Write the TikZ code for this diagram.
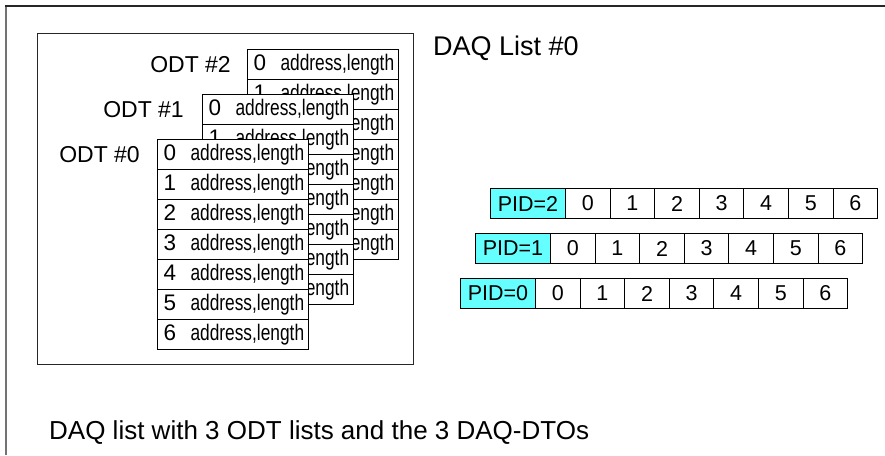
\documentclass[tikz,border=0pt]{standalone}
\usepackage{fontspec}
\setmainfont{Liberation Sans}
\newfontfamily\narrowfont{Liberation Sans}[FakeStretch=0.77]
\definecolor{pidcyan}{RGB}{102,255,255}
\begin{document}
\begin{tikzpicture}[x=1pt,y=-1pt,
  odtcell/.style={draw=black, line width=1pt, fill=white, rectangle, inner sep=0pt,
    minimum width=151pt, minimum height=30pt, anchor=north west,
    font=\fontsize{22.5}{25}\selectfont},
  odtlabel/.style={anchor=east, inner sep=0pt, font=\fontsize{23}{26}\selectfont},
  pidcell/.style={draw=black, line width=1pt, fill=pidcyan, rectangle, inner sep=0pt,
    minimum width=75pt, minimum height=30pt, anchor=north west,
    font=\fontsize{21.5}{24}\selectfont},
  datacell/.style={draw=black, line width=1pt, fill=white, rectangle, inner sep=0pt,
    minimum width=44.6pt, minimum height=30pt, anchor=north west,
    font=\fontsize{21.5}{24}\selectfont},
  framebox/.style={draw=black!85, line width=1.3pt, rectangle, inner sep=0pt, anchor=north west},
  title/.style={anchor=west, inner sep=0pt, font=\fontsize{27}{32}\selectfont}
]
\useasboundingbox (0,0) rectangle (885,455);
% outer frame (top and left edges)
\draw[black!55, line width=2pt] (6,455) -- (6,6);
\draw[black!85, line width=1.6pt] (5,6) -- (885,6);

% DAQ list box
\node[framebox, minimum width=376pt, minimum height=331pt] (daq) at (37,33) {};

% ODT tables (back to front)
\foreach \t/\x/\y in {2/247/49, 1/202/94, 0/157/139} {
  \foreach \r in {0,...,6} {
    \node[odtcell] (o\t r\r) at (\x,\y+30*\r)
      {\hbox to 151pt{\hspace{6pt}\hbox to 27pt{\r\hss}{\narrowfont address,length}\hss}};
  }
}
\node[odtlabel] (lab2) at ([xshift=-16pt]o2r0.west) {ODT \#2};
\node[odtlabel] (lab1) at ([xshift=-18pt]o1r0.west) {ODT \#1};
\node[odtlabel] (lab0) at ([xshift=-17pt]o0r0.west) {ODT \#0};

% title
\node[title] (daqtitle) at (433,48) {DAQ List \#0};

% DAQ-DTOs
\foreach \p/\x/\y in {2/490/188, 1/475/233, 0/460/278} {
  \node[pidcell] (pid\p) at (\x,\y) {PID=\p};
  \foreach \c in {0,...,6} {
    \node[datacell] (d\p c\c) at (\x+75+44.6*\c,\y) {\c};
  }
}

% caption
\node[anchor=west, inner sep=0pt, font=\fontsize{26}{30}\selectfont] (caption) at (49,433)
  {DAQ list with 3 ODT lists and the 3 DAQ-DTOs};
\end{tikzpicture}
\end{document}
